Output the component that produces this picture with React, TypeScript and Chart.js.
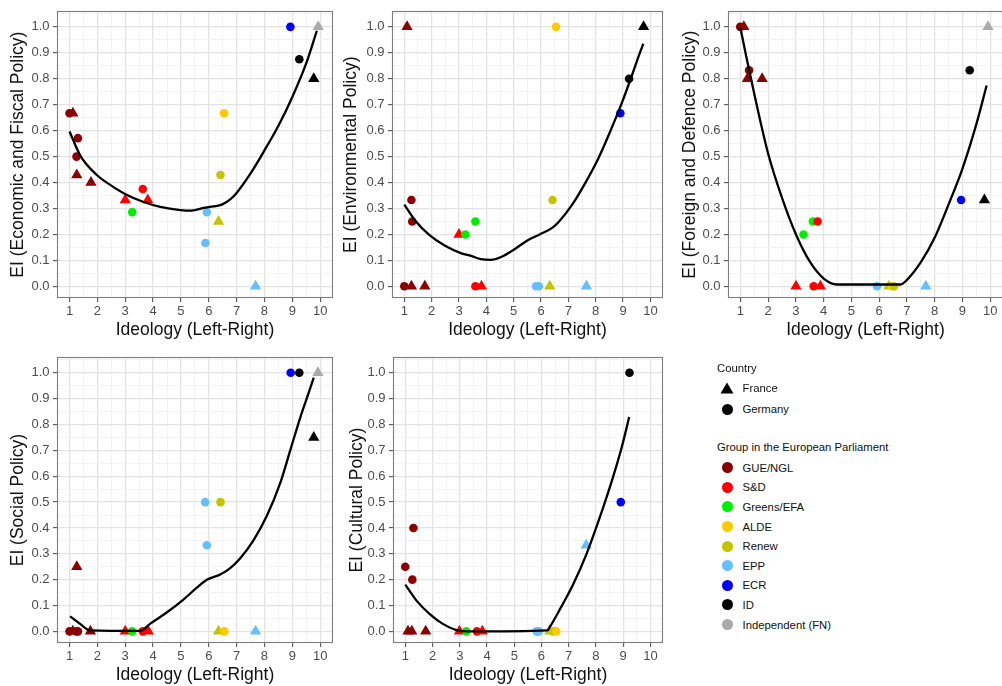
import React, { useEffect, useRef } from "react";
import { Chart, registerables } from "chart.js";
Chart.register(...registerables);

const FONT = '"Liberation Sans", Arial, Helvetica, sans-serif';
Chart.defaults.font.family = FONT;

// ---------- categories ----------
const GROUPS = ["GUE/NGL", "S&D", "Greens/EFA", "ALDE", "Renew", "EPP", "ECR", "ID", "Independent (FN)"];
const GROUP_COLORS = ["#8B0000", "#FF0000", "#00EE00", "#FFC800", "#C4C400", "#63BFFF", "#0000FF", "#000000", "#AAAAAA"];
const COUNTRIES = ["France", "Germany"];
const X_LABEL = "Ideology (Left-Right)";
const X_RANGE = [0.55, 10.46];
const Y_RANGE = [-0.045, 1.06];

type Pt = [number, number, string, string];

// ---------- data: [ideology, EI, group, country] ----------
const economicPoints: Pt[] = [
  [1.0, 0.667, "GUE/NGL", "Germany"], [1.12, 0.667, "GUE/NGL", "France"],
  [1.3, 0.571, "GUE/NGL", "Germany"], [1.25, 0.5, "GUE/NGL", "Germany"],
  [1.26, 0.429, "GUE/NGL", "France"], [1.77, 0.4, "GUE/NGL", "France"],
  [3.0, 0.333, "S&D", "France"], [3.25, 0.286, "Greens/EFA", "Germany"],
  [3.63, 0.375, "S&D", "Germany"], [3.81, 0.333, "S&D", "France"],
  [5.93, 0.286, "EPP", "Germany"], [5.88, 0.167, "EPP", "Germany"],
  [6.35, 0.25, "Renew", "France"], [6.42, 0.429, "Renew", "Germany"],
  [6.55, 0.667, "ALDE", "Germany"], [7.68, 0.0, "EPP", "France"],
  [8.93, 1.0, "ECR", "Germany"], [9.25, 0.875, "ID", "Germany"],
  [9.77, 0.8, "ID", "France"], [9.93, 1.0, "Independent (FN)", "France"],
];
const economicCurve = [
  [1.0, 0.597], [1.38, 0.505], [1.98, 0.429], [2.46, 0.391], [3.01, 0.355], [3.66, 0.325],
  [4.26, 0.306], [4.98, 0.294], [5.39, 0.292], [5.81, 0.302], [6.17, 0.308], [6.47, 0.315],
  [6.77, 0.335], [7.0, 0.36], [7.5, 0.435], [8.0, 0.524], [8.5, 0.619], [9.0, 0.73],
  [9.5, 0.86], [9.88, 0.985],
];

const environmentalPoints: Pt[] = [
  [1.1, 1.0, "GUE/NGL", "France"], [1.26, 0.333, "GUE/NGL", "Germany"],
  [1.29, 0.25, "GUE/NGL", "Germany"], [1.0, 0.0, "GUE/NGL", "Germany"],
  [1.26, 0.0, "GUE/NGL", "France"], [1.75, 0.0, "GUE/NGL", "France"],
  [3.0, 0.2, "S&D", "France"], [3.23, 0.2, "Greens/EFA", "Germany"],
  [3.6, 0.25, "Greens/EFA", "Germany"], [3.6, 0.0, "S&D", "Germany"],
  [3.82, 0.0, "S&D", "France"], [5.82, 0.0, "EPP", "Germany"],
  [5.92, 0.0, "EPP", "Germany"], [6.32, 0.0, "Renew", "France"],
  [6.42, 0.333, "Renew", "Germany"], [6.55, 1.0, "ALDE", "Germany"],
  [7.66, 0.0, "EPP", "France"], [8.9, 0.667, "ECR", "Germany"],
  [9.22, 0.8, "ID", "Germany"], [9.75, 1.0, "ID", "France"],
];
const environmentalCurve = [
  [1.0, 0.315], [1.42, 0.251], [1.89, 0.2], [2.49, 0.156], [3.09, 0.127], [3.44, 0.117],
  [3.8, 0.105], [4.16, 0.102], [4.52, 0.112], [4.99, 0.14], [5.47, 0.175], [5.95, 0.2],
  [6.42, 0.226], [6.66, 0.25], [7.14, 0.315], [7.61, 0.397], [8.09, 0.492], [8.57, 0.607],
  [8.93, 0.7], [9.28, 0.8], [9.58, 0.89], [9.74, 0.935],
];

const foreignPoints: Pt[] = [
  [0.99, 1.0, "GUE/NGL", "Germany"], [1.12, 1.0, "GUE/NGL", "France"],
  [1.31, 0.833, "GUE/NGL", "Germany"], [1.25, 0.8, "GUE/NGL", "France"],
  [1.78, 0.8, "GUE/NGL", "France"], [3.27, 0.2, "Greens/EFA", "Germany"],
  [3.61, 0.25, "Greens/EFA", "Germany"], [3.78, 0.25, "S&D", "Germany"],
  [3.0, 0.0, "S&D", "France"], [3.64, 0.0, "S&D", "Germany"],
  [3.88, 0.0, "S&D", "France"], [5.92, 0.0, "EPP", "Germany"],
  [6.35, 0.0, "Renew", "France"], [6.46, 0.0, "ALDE", "Germany"],
  [6.53, 0.0, "Renew", "Germany"], [7.68, 0.0, "EPP", "France"],
  [8.95, 0.333, "ECR", "Germany"], [9.26, 0.833, "ID", "Germany"],
  [9.79, 0.333, "ID", "France"], [9.92, 1.0, "Independent (FN)", "France"],
];
const foreignCurve = [
  [1.0, 0.995], [1.2, 0.89], [1.5, 0.74], [2.0, 0.51], [2.5, 0.34], [3.0, 0.2],
  [3.5, 0.095], [4.0, 0.03], [4.48, 0.007], [6.77, 0.007], [7.0, 0.025], [7.5, 0.093],
  [8.0, 0.188], [8.5, 0.316], [9.0, 0.454], [9.5, 0.625], [9.87, 0.774],
];

const socialPoints: Pt[] = [
  [1.0, 0.0, "GUE/NGL", "Germany"], [1.12, 0.0, "GUE/NGL", "France"],
  [1.25, 0.0, "GUE/NGL", "Germany"], [1.3, 0.0, "GUE/NGL", "Germany"],
  [1.26, 0.25, "GUE/NGL", "France"], [1.75, 0.0, "GUE/NGL", "France"],
  [3.0, 0.0, "S&D", "France"], [3.25, 0.0, "Greens/EFA", "Germany"],
  [3.63, 0.0, "S&D", "Germany"], [3.83, 0.0, "S&D", "France"],
  [5.87, 0.5, "EPP", "Germany"], [5.93, 0.333, "EPP", "Germany"],
  [6.42, 0.5, "Renew", "Germany"], [6.35, 0.0, "Renew", "France"],
  [6.56, 0.0, "ALDE", "Germany"], [7.68, 0.0, "EPP", "France"],
  [8.94, 1.0, "ECR", "Germany"], [9.25, 1.0, "ID", "Germany"],
  [9.77, 0.75, "ID", "France"], [9.92, 1.0, "Independent (FN)", "France"],
];
const socialCurve = [
  [1.02, 0.058], [1.38, 0.029], [1.74, 0.004], [3.54, 0.002], [3.9, 0.03], [4.5, 0.074],
  [5.1, 0.124], [5.57, 0.169], [5.93, 0.2], [6.41, 0.22], [6.77, 0.245], [7.13, 0.283],
  [7.61, 0.353], [8.09, 0.448], [8.57, 0.575], [8.93, 0.702], [9.29, 0.829], [9.53, 0.905],
  [9.77, 0.981],
];

const culturalPoints: Pt[] = [
  [1.0, 0.25, "GUE/NGL", "Germany"], [1.26, 0.2, "GUE/NGL", "Germany"],
  [1.3, 0.4, "GUE/NGL", "Germany"], [1.1, 0.0, "GUE/NGL", "France"],
  [1.24, 0.0, "GUE/NGL", "France"], [1.75, 0.0, "GUE/NGL", "France"],
  [2.99, 0.0, "S&D", "France"], [3.24, 0.0, "Greens/EFA", "Germany"],
  [3.63, 0.0, "S&D", "Germany"], [3.83, 0.0, "S&D", "France"],
  [5.82, 0.0, "EPP", "Germany"], [5.9, 0.0, "EPP", "Germany"],
  [6.3, 0.0, "Renew", "France"], [6.42, 0.0, "Renew", "Germany"],
  [6.54, 0.0, "ALDE", "Germany"], [7.64, 0.333, "EPP", "France"],
  [8.91, 0.5, "ECR", "Germany"], [9.23, 1.0, "ID", "Germany"],
];
const culturalCurve = [
  [1.0, 0.181], [1.42, 0.118], [1.9, 0.067], [2.38, 0.029], [2.85, 0.006], [3.33, 0.0],
  [6.22, 0.004], [6.3, 0.016], [6.68, 0.086], [7.16, 0.181], [7.64, 0.296], [8.12, 0.435],
  [8.6, 0.588], [8.95, 0.714], [9.22, 0.829],
];

// ---------- layout ----------
const PANELS = [
  { yLabel: "EI (Economic and Fiscal Policy)", points: economicPoints, curve: economicCurve, box: [57, 7, 333, 298], yTitleX: 18 },
  { yLabel: "EI (Environmental Policy)", points: environmentalPoints, curve: environmentalCurve, box: [392, 7, 663, 298], yTitleX: 351 },
  { yLabel: "EI (Foreign and Defence Policy)", points: foreignPoints, curve: foreignCurve, box: [728, 7, 1003, 298], yTitleX: 690 },
  { yLabel: "EI (Social Policy)", points: socialPoints, curve: socialCurve, box: [57, 353, 333, 643], yTitleX: 18 },
  { yLabel: "EI (Cultural Policy)", points: culturalPoints, curve: culturalCurve, box: [393, 353, 663, 643], yTitleX: 357 },
];

const Y_AXIS_W = 60;
const X_AXIS_H = 48;
const TITLE_SIZE = 17.5;

const boxPlugin = {
  id: "panelBox",
  afterDraw(chart: any) {
    const { ctx, chartArea: a } = chart;
    ctx.save();
    ctx.strokeStyle = "#7d7d7d";
    ctx.lineWidth = 1.1;
    ctx.strokeRect(Math.round(a.left) + 0.5, Math.round(a.top) + 0.5, Math.round(a.right - a.left) - 1, Math.round(a.bottom - a.top) - 1);
    ctx.restore();
  },
};

const near = (v: number, step: number) => Math.abs(v / step - Math.round(v / step)) < 1e-6;

function Panel({ cfg }: { cfg: any }) {
  const ref = useRef<HTMLCanvasElement>(null);
  const [L, T, R, B] = cfg.box;
  const cl = L - Y_AXIS_W;
  const ct = T - 7;
  const cw = R - L + Y_AXIS_W + 7;
  const ch = B - T + 7 + X_AXIS_H;

  useEffect(() => {
    const pts: Pt[] = cfg.points;
    const colors = pts.map((p) => GROUP_COLORS[GROUPS.indexOf(p[2])]);
    const styles = pts.map((p) => (p[3] === COUNTRIES[0] ? "triangle" : "circle"));
    const radii = pts.map((p) => (p[3] === COUNTRIES[0] ? 6.5 : 4.3));
    const gridColor = (major: boolean) => (major ? "#e3e3e3" : "#f0f0f0");

    const chart = new Chart(ref.current as HTMLCanvasElement, {
      type: "scatter",
      data: {
        datasets: [
          {
            type: "line",
            data: cfg.curve.map(([x, y]: number[]) => ({ x, y })),
            borderColor: "#000",
            borderWidth: 2.3,
            pointRadius: 0,
            fill: false,
            cubicInterpolationMode: "monotone",
            order: -1,
          } as any,
          {
            data: pts.map((p) => ({ x: p[0], y: p[1] })),
            pointBackgroundColor: colors,
            pointBorderColor: colors,
            pointBorderWidth: 0,
            pointStyle: styles,
            pointRadius: radii,
            order: 1,
            clip: false,
          } as any,
        ],
      },
      options: {
        animation: false,
        responsive: false,
        events: [],
        layout: { padding: { left: 0, top: 7, right: 7, bottom: 0 } },
        plugins: { legend: { display: false }, tooltip: { enabled: false } },
        scales: {
          x: {
            type: "linear",
            min: X_RANGE[0],
            max: X_RANGE[1],
            afterFit: (s: any) => { s.height = X_AXIS_H; },
            border: { display: false },
            grid: {
              color: (c: any) => gridColor(near(c.tick.value, 1)),
              lineWidth: (c: any) => (near(c.tick.value, 1) ? 1.3 : 0.8),
              tickColor: (c: any) => (near(c.tick.value, 1) ? "#444" : "rgba(0,0,0,0)"),
              tickLength: 4,
              tickWidth: 1,
            },
            ticks: {
              stepSize: 0.5,
              includeBounds: false,
              autoSkip: false,
              maxTicksLimit: 100,
              maxRotation: 0,
              minRotation: 0,
              padding: 2,
              color: "#4d4d4d",
              font: { size: 13, family: FONT },
              callback: (v: any) => (near(Number(v), 1) ? String(Math.round(Number(v))) : ""),
            },
            title: {
              display: true,
              text: X_LABEL,
              color: "#111",
              font: { size: TITLE_SIZE, family: FONT },
              padding: { top: 0, bottom: 5.5 },
            },
          },
          y: {
            type: "linear",
            min: Y_RANGE[0],
            max: Y_RANGE[1],
            afterFit: (s: any) => { s.width = Y_AXIS_W; },
            border: { display: false },
            grid: {
              color: (c: any) => gridColor(near(c.tick.value, 0.1)),
              lineWidth: (c: any) => (near(c.tick.value, 0.1) ? 1.3 : 0.8),
              tickColor: (c: any) => (near(c.tick.value, 0.1) ? "#444" : "rgba(0,0,0,0)"),
              tickLength: 4,
              tickWidth: 1,
            },
            ticks: {
              stepSize: 0.05,
              includeBounds: false,
              autoSkip: false,
              maxTicksLimit: 100,
              padding: 3.5,
              color: "#4d4d4d",
              font: { size: 13, family: FONT },
              callback: (v: any) => (near(Number(v), 0.1) ? Number(v).toFixed(1) : ""),
            },
            title: {
              display: true,
              text: cfg.yLabel,
              color: "#111",
              font: { size: TITLE_SIZE, family: FONT },
              padding: { top: cfg.yTitleX - cl - (TITLE_SIZE * 1.2) / 2, bottom: 0 },
            },
          },
        },
      },
      plugins: [boxPlugin],
    } as any);
    return () => chart.destroy();
  }, []);

  return (
    <canvas
      ref={ref}
      width={cw}
      height={ch}
      style={{ position: "absolute", left: cl, top: ct, width: cw, height: ch, display: "block" }}
    />
  );
}

function Triangle({ color }: { color: string }) {
  return (
    <svg width="14" height="12" viewBox="0 0 14 12" style={{ display: "block" }}>
      <polygon points="7,0.5 13.5,11.5 0.5,11.5" fill={color} />
    </svg>
  );
}
function Dot({ color }: { color: string }) {
  return <div style={{ width: 11, height: 11, borderRadius: "50%", background: color }} />;
}

function LegendRow({ y, children, label }: { y: number; children: any; label: string }) {
  return (
    <>
      <div style={{ position: "absolute", left: 727.3 - 7, top: y - 6, width: 14, height: 12, display: "flex", alignItems: "center", justifyContent: "center" }}>
        {children}
      </div>
      <div style={{ position: "absolute", left: 742.5, top: y - 8, height: 16, lineHeight: "16px", whiteSpace: "nowrap" }}>{label}</div>
    </>
  );
}

function Legend() {
  const textStyle: any = { position: "absolute", left: 717, height: 16, lineHeight: "16px", whiteSpace: "nowrap" };
  return (
    <div style={{ position: "absolute", left: 0, top: 0, font: `11.3px ${FONT}`, color: "#111" }}>
      <div style={{ ...textStyle, top: 367.5 - 8 }}>Country</div>
      <LegendRow y={388.3} label={COUNTRIES[0]}><Triangle color="#000" /></LegendRow>
      <LegendRow y={409.3} label={COUNTRIES[1]}><Dot color="#000" /></LegendRow>
      <div style={{ ...textStyle, top: 447.3 - 8 }}>Group in the European Parliament</div>
      {GROUPS.map((g, i) => (
        <LegendRow key={g} y={467.7 + i * 19.6} label={g}><Dot color={GROUP_COLORS[i]} /></LegendRow>
      ))}
    </div>
  );
}

export default function App() {
  return (
    <div style={{ position: "absolute", left: 0, top: 0, width: 1002, height: 686, overflow: "hidden", background: "#fff" }}>
      {PANELS.map((p, i) => (
        <Panel key={i} cfg={p} />
      ))}
      <Legend />
    </div>
  );
}
